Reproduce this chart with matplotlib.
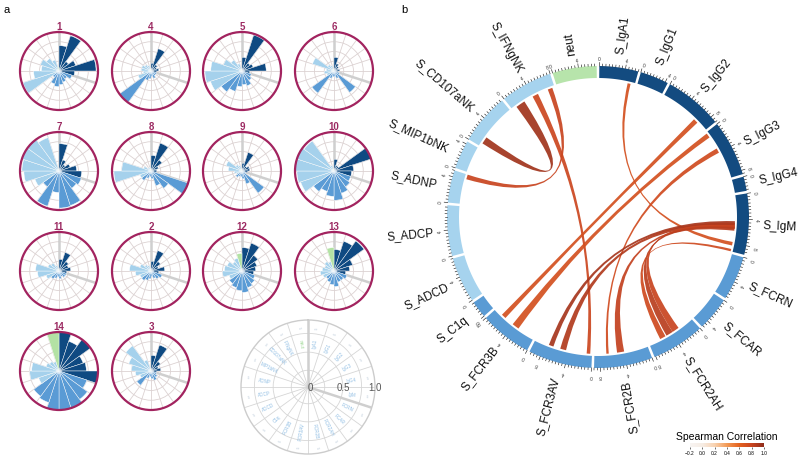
import numpy as np
import matplotlib
matplotlib.use('Agg')
import matplotlib.pyplot as plt
import matplotlib as mpl
from matplotlib.path import Path
from matplotlib.patches import PathPatch, Polygon

plt.rcParams['font.family'] = ['Liberation Sans', 'DejaVu Sans']

# ---- panel a data: rose charts, 20 features clockwise from north ----
features = ['IgA1', 'IgG1', 'IgG2', 'IgG3', 'IgG4', 'IgM',
            'FCRN', 'FCAR', 'FCR2AH', 'FCR2B', 'FCR3AV', 'FCR3B', 'C1q',
            'ADCD', 'ADCP', 'ADNP', 'MIP1bNK', 'CD107aNK', 'IFNgNK', 'neut']
feat_group = [0]*6 + [1]*7 + [2]*6 + [3]
rose_colors = ['#0f4a82', '#5a9bd5', '#a5d1ec', '#b3e2a4']

c1 = [0.65, 0.95, 0.3, 0.45, 0.95, 0.4, 0.35, 0.25, 0.3, 0.35, 0.4, 0.35, 0.2, 0.97, 0.65, 0.45, 0.5, 0.4, 0.3, 0.1]
c4 = [0.2, 0.6, 0.2, 0.15, 0.2, 0.15, 0.15, 0.15, 0.2, 0.15, 0.2, 0.25, 1.0, 0.35, 0.2, 0.25, 0.25, 0.2, 0.15, 0.05]
c5 = [0.35, 0.97, 0.25, 0.3, 0.62, 0.2, 0.25, 0.3, 0.4, 0.35, 0.4, 0.55, 0.66, 0.85, 0.95, 0.8, 0.5, 0.35, 0.2, 0.05]
c6 = [0.35, 0.2, 0.15, 0.12, 0.15, 0.1, 0.15, 0.68, 0.2, 0.15, 0.15, 0.2, 0.7, 0.2, 0.25, 0.2, 0.58, 0.2, 0.15, 0.05]
c7 = [0.7, 0.3, 0.2, 0.3, 0.45, 0.58, 0.6, 0.55, 0.93, 0.95, 0.55, 0.95, 0.5, 0.65, 0.9, 0.95, 1.0, 1.0, 0.9, 0.05]
c8 = [0.4, 0.75, 0.35, 0.2, 0.15, 0.15, 1.0, 0.55, 0.4, 0.2, 0.15, 0.2, 0.3, 0.3, 0.95, 0.75, 0.2, 0.1, 0.1, 0.05]
c9 = [0.2, 0.5, 0.15, 0.2, 0.2, 0.15, 0.1, 0.7, 0.35, 0.2, 0.15, 0.15, 0.2, 0.15, 0.2, 0.35, 0.43, 0.2, 0.15, 0.05]
c10 = [0.3, 0.15, 0.15, 1.0, 0.5, 0.45, 0.45, 0.5, 0.6, 0.75, 0.65, 0.55, 0.65, 0.9, 0.95, 1.0, 1.0, 0.95, 0.15, 0.05]
c11 = [0.3, 0.5, 0.3, 0.25, 0.3, 0.2, 0.2, 0.2, 0.15, 0.2, 0.15, 0.2, 0.25, 0.35, 0.55, 0.6, 0.3, 0.25, 0.15, 0.05]
c2 = [0.25, 0.55, 0.3, 0.2, 0.35, 0.2, 0.3, 0.25, 0.2, 0.15, 0.2, 0.25, 0.3, 0.3, 0.4, 0.55, 0.3, 0.2, 0.15, 0.05]
c12 = [0.6, 0.75, 0.5, 0.4, 0.35, 0.3, 0.35, 0.4, 0.45, 0.55, 0.5, 0.45, 0.4, 0.35, 0.5, 0.45, 0.4, 0.3, 0.35, 0.45]
c13 = [0.55, 0.8, 0.95, 0.5, 0.4, 0.3, 0.35, 0.3, 0.3, 0.4, 0.35, 0.3, 0.25, 0.3, 0.35, 0.3, 0.25, 0.3, 0.25, 0.6]
c14 = [1.0, 0.8, 1.0, 0.65, 0.7, 1.0, 0.75, 0.9, 1.0, 1.0, 1.0, 0.85, 0.8, 0.55, 0.75, 0.7, 0.35, 0.3, 0.25, 1.0]
c3 = [0.4, 0.7, 0.3, 0.2, 0.25, 0.15, 0.15, 0.2, 0.25, 0.2, 0.15, 0.2, 0.45, 0.3, 0.4, 0.5, 0.6, 0.8, 0.3, 0.05]
clusters = [('1', c1), ('4', c4), ('5', c5), ('6', c6),
            ('7', c7), ('8', c8), ('9', c9), ('10', c10),
            ('11', c11), ('2', c2), ('12', c12), ('13', c13),
            ('14', c14), ('3', c3)]

# ---- panel b data: chord diagram ----
sectors = ['neut', 'S_IgA1', 'S_IgG1', 'S_IgG2', 'S_IgG3', 'S_IgG4', 'S_IgM',
           'S_FCRN', 'S_FCAR', 'S_FCR2AH', 'S_FCR2B', 'S_FCR3AV', 'S_FCR3B', 'S_C1q',
           'S_ADCD', 'S_ADCP', 'S_ADNP', 'S_MIP1bNK', 'S_CD107aNK', 'S_IFNgNK']
sector_size = [6.8, 6.0, 4.4, 9.0, 8.6, 2.2, 9.4,
               6.8, 5.2, 8.2, 9.0, 9.8, 8.0, 2.6,
               7.0, 7.8, 5.0, 4.4, 7.8, 8.0]
sector_group = [3, 0, 0, 0, 0, 0, 0, 1, 1, 1, 1, 1, 1, 1, 2, 2, 2, 2, 2, 2]
ring_colors = ['#134b80', '#5a9bd4', '#a6d3ee', '#b7e4ab']

# (sector A, from, to, sector B, from, to, spearman rho)
chords = [
    ('S_CD107aNK', 0.6, 1.8, 'S_IFNgNK', 0.8, 2.4, 0.93),
    ('S_ADNP', 4.2, 5.0, 'S_IFNgNK', 6.8, 7.6, 0.8),
    ('S_IFNgNK', 4.0, 5.0, 'S_FCR3AV', 0.3, 0.9, 0.78),
    ('S_IgA1', 4.8, 5.3, 'S_IgM', 7.8, 8.4, 0.72),
    ('S_IgG2', 6.4, 7.2, 'S_FCR3B', 5.8, 6.6, 0.72),
    ('S_IgG3', 0.2, 1.0, 'S_FCR3B', 3.0, 4.2, 0.72),
    ('S_IgG3', 3.2, 4.0, 'S_FCR2B', 6.6, 7.0, 0.75),
    ('S_IgM', 4.3, 5.0, 'S_FCR3AV', 6.6, 7.4, 0.92),
    ('S_IgM', 4.6, 5.4, 'S_FCR3AV', 4.4, 5.4, 0.88),
    ('S_IgM', 5.0, 5.6, 'S_FCR2B', 4.0, 5.2, 0.82),
    ('S_IgM', 5.0, 5.6, 'S_FCR2AH', 2.6, 3.8, 0.8),
    ('S_IgM', 5.3, 5.9, 'S_FCR2AH', 3.8, 5.0, 0.85),
    ('S_IgM', 9.0, 9.4, 'S_FCR2AH', 5.2, 6.2, 0.76),
]

cmap = mpl.colors.LinearSegmentedColormap.from_list(
    'rho', ['#f7f4f2', '#f6ece4', '#f8d2b0', '#f29a56', '#e4621f', '#c9441f', '#8e2c1b'])
norm = mpl.colors.Normalize(vmin=-0.2, vmax=1.0)

W, H = 798, 456
fig = plt.figure(figsize=(W / 100, H / 100), dpi=100)

# pixel axes for panel b
axp = fig.add_axes([0, 0, 1, 1])
axp.set_xlim(0, W)
axp.set_ylim(H, 0)
axp.axis('off')

cx, cy = 598, 218
r_out, r_ring_in, r_link = 151, 139, 137
gap = 1.0
deg_per_unit = (360 - gap * len(sectors)) / sum(sector_size)


def pt(theta, r):
    t = np.deg2rad(theta)
    return cx + r * np.sin(t), cy - r * np.cos(t)


starts = {}
theta = -17.5
for name, size in zip(sectors, sector_size):
    starts[name] = theta
    theta += size * deg_per_unit + gap


def ang(name, u):
    return starts[name] + u * deg_per_unit


# ring + ticks + labels
for name, size, g in zip(sectors, sector_size, sector_group):
    t0, t1 = ang(name, 0), ang(name, size)
    ts = np.linspace(t0, t1, 40)
    outer = [pt(t, r_out) for t in ts]
    inner = [pt(t, r_ring_in) for t in ts[::-1]]
    axp.add_patch(Polygon(outer + inner, closed=True, fc=ring_colors[g], ec='none'))
    for u in np.arange(0, size + 1e-6, 0.5):
        t = ang(name, u)
        major = (u % 4 == 0)
        x0, y0 = pt(t, r_out)
        x1, y1 = pt(t, r_out + (3.5 if major else 2))
        axp.plot([x0, x1], [y0, y1], color='#222222', lw=0.45)
        if major:
            xl, yl = pt(t, r_out + 7.5)
            axp.text(xl, yl, '%d' % u, fontsize=3.5, color='#333333',
                     rotation=-t, ha='center', va='center')
    tm = (t0 + t1) / 2 % 360
    xl, yl = pt(tm, 165)
    if 165 <= tm < 345:
        rot, ha = 270 - tm, 'right'
    else:
        rot, ha = 90 - tm, 'left'
    axp.text(xl, yl, name, fontsize=8.5, rotation=rot, ha=ha, va='center',
             rotation_mode='anchor', color='#111111')

# links
for a, a0, a1, b, b0, b1, rho in chords:
    arcA = [pt(t, r_link) for t in np.linspace(ang(a, a0), ang(a, a1), 12)]
    arcB = [pt(t, r_link) for t in np.linspace(ang(b, b0), ang(b, b1), 12)]
    verts = arcA + [(cx, cy), arcB[0]] + arcB[1:] + [(cx, cy), arcA[0], arcA[0]]
    codes = ([Path.MOVETO] + [Path.LINETO] * (len(arcA) - 1) + [Path.CURVE3, Path.CURVE3]
             + [Path.LINETO] * (len(arcB) - 1) + [Path.CURVE3, Path.CURVE3] + [Path.CLOSEPOLY])
    axp.add_patch(PathPatch(Path(verts, codes), fc=cmap(norm(rho)), ec='none', alpha=0.92))

axp.text(4, 5, 'a', fontsize=8, va='top', ha='left')
axp.text(401, 5, 'b', fontsize=8, va='top', ha='left')

# colorbar
cax = fig.add_axes([690 / W, 1 - 448 / H, 74 / W, 4 / H])
cb = mpl.colorbar.ColorbarBase(cax, cmap=cmap, norm=norm, orientation='horizontal')
cb.set_ticks([-0.2, 0.0, 0.2, 0.4, 0.6, 0.8, 1.0])
cb.ax.tick_params(labelsize=3.5, length=1.5, width=0.4, pad=0.8)
cb.outline.set_visible(False)
fig.text(727 / W, 1 - 437 / H, 'Spearman Correlation', fontsize=7.5, ha='center', va='center')

# ---- panel a: rose charts ----
col_x = [59, 151, 242, 334]
row_y = [72, 172, 272, 372]
R = 39
n = len(features)
width = 2 * np.pi / n
thetas = np.arange(n) * width + width / 2
bar_cols = [rose_colors[g] for g in feat_group]


def setup_polar(ax, grid_col, radii):
    ax.set_theta_zero_location('N')
    ax.set_theta_direction(-1)
    ax.set_ylim(0, 1)
    ax.set_yticks(radii)
    ax.set_yticklabels([])
    ax.set_xticks(np.arange(n) * width)
    ax.set_xticklabels([])
    ax.tick_params(length=0)
    ax.grid(color=grid_col, lw=0.6)
    ax.set_axisbelow(True)
    for t in [0, 108]:
        ax.plot([np.deg2rad(t)] * 2, [0, 1], color='#cfcfcf', lw=1.8, zorder=1)


for i, (label, vals) in enumerate(clusters):
    x, y = col_x[i % 4], row_y[i // 4]
    ax = fig.add_axes([(x - R) / W, 1 - (y + R) / H, 2 * R / W, 2 * R / H], projection='polar')
    setup_polar(ax, '#dcd2d2', [0.25, 0.5, 0.75])
    ax.bar(thetas, vals, width=width, color=bar_cols, edgecolor='white', linewidth=0.3, zorder=3)
    ax.spines['polar'].set_color('#a2235f')
    ax.spines['polar'].set_linewidth(1.6)
    ax.spines['polar'].set_zorder(5)
    fig.text(x / W, 1 - (y - R - 1) / H, label, fontsize=7, fontweight='bold',
             color='#9c2a62', ha='center', va='bottom')

# legend rose
lx, ly, LR = 308, 388, 67
axl = fig.add_axes([(lx - LR) / W, 1 - (ly + LR) / H, 2 * LR / W, 2 * LR / H], projection='polar')
setup_polar(axl, '#d6d6d6', [0.25, 0.52, 0.8])
axl.spines['polar'].set_color('#cccccc')
axl.spines['polar'].set_linewidth(1.0)
for th, f, g in zip(thetas, features, feat_group):
    d = np.rad2deg(th)
    rot = 90 - d if d < 180 else 270 - d
    axl.text(th, 0.66, f, fontsize=3.3, rotation=rot, rotation_mode='anchor',
             ha='center', va='center', color='#a8dca0' if g == 3 else '#8fbde3')
    axl.text(th, 0.9, '5', fontsize=3, rotation=rot, rotation_mode='anchor',
             ha='center', va='center', color='#b8c8d8')
for r, s in [(0.04, '0'), (0.53, '0.5'), (1.0, '1.0')]:
    axl.text(np.pi / 2, r, s, fontsize=7, color='#555555', ha='center', va='center')

fig.savefig('out.png', dpi=100)
